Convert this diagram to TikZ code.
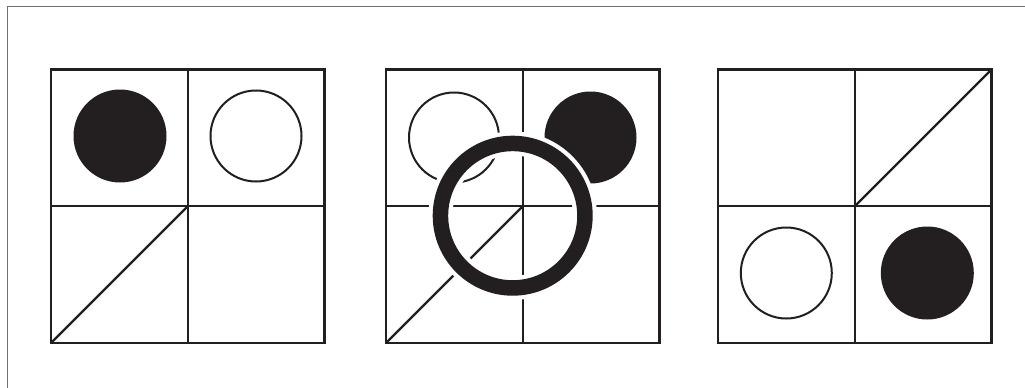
\documentclass[tikz,border=0pt]{standalone}
\definecolor{inkblack}{RGB}{35,31,32}
\definecolor{framegray}{RGB}{112,112,112}

\begin{document}
\begin{tikzpicture}[x=1pt, y=-1pt,
  cellline/.style={draw=inkblack, line width=2.2pt},
  dotfull/.style={fill=inkblack},
  dotopen/.style={draw=inkblack, line width=2pt}]

\useasboundingbox (0,0) rectangle (1025,388);

% ---- outer frame (top and left only) ----
\draw[framegray, line width=1.6pt] (7.5,388) -- (7.5,6.5) -- (1025,6.5);

% ---- three 2x2 grids, size 273.5 ----
\foreach \px in {51,386,718} {
  \draw[cellline] (\px,69.5) rectangle ++(273.5,273.5);
  \draw[cellline] (\px+136.75,69.5) -- ++(0,273.5);
  \draw[cellline] (\px,206.25) -- ++(273.5,0);
}

% ---- diagonals ----
\draw[cellline] (51,343) -- (187.75,206.25);
\draw[cellline] (386,343) -- (522.75,206.25);
\draw[cellline] (854.75,206.25) -- (991.5,69.5);

% ---- panel 1 ----
\fill[dotfull] (120,136) circle (46.5);
\draw[dotopen] (256,136) circle (45.5);

% ---- panel 2 ----
\draw[dotopen] (454,137.5) circle (45);
\fill[dotfull] (590.5,137.5) circle (46);

% ring with white halo
\draw[white, line width=24pt] (512.7,215.7) circle (72.25);
\draw[inkblack, line width=15.5pt] (512.7,215.7) circle (72.25);

% ---- panel 3 ----
\draw[dotopen] (786.3,273) circle (45.5);
\fill[dotfull] (927.3,273) circle (46.5);

\end{tikzpicture}
\end{document}
